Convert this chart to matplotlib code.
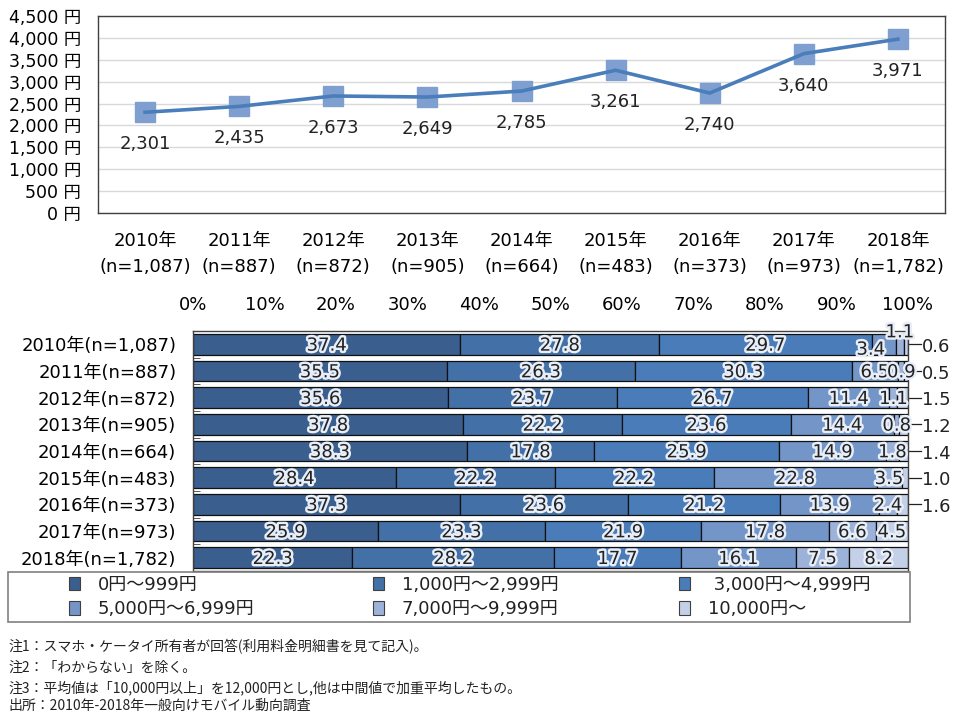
import numpy as np
import matplotlib
matplotlib.use("Agg")
import matplotlib.pyplot as plt
import matplotlib.patheffects as pe
from matplotlib.patches import Patch, Rectangle

plt.rcParams['font.family'] = ['DejaVu Sans', 'Noto Sans CJK JP']
plt.rcParams['text.color'] = '#222222'

# データ
years = ["2010年", "2011年", "2012年", "2013年", "2014年", "2015年", "2016年", "2017年", "2018年"]
samples = ["1,087", "887", "872", "905", "664", "483", "373", "973", "1,782"]
avg_fee = [2301, 2435, 2673, 2649, 2785, 3261, 2740, 3640, 3971]

categories = ["0円～999円", "1,000円～2,999円", " 3,000円～4,999円",
              "5,000円～6,999円", "7,000円～9,999円", "10,000円～"]
shares = np.array([
    [37.4, 27.8, 29.7, 3.4, 1.1, 0.6],
    [35.5, 26.3, 30.3, 6.5, 0.9, 0.5],
    [35.6, 23.7, 26.7, 11.4, 1.1, 1.5],
    [37.8, 22.2, 23.6, 14.4, 0.8, 1.2],
    [38.3, 17.8, 25.9, 14.9, 1.8, 1.4],
    [28.4, 22.2, 22.2, 22.8, 3.5, 1.0],
    [37.3, 23.6, 21.2, 13.9, 2.4, 1.6],
    [25.9, 23.3, 21.9, 17.8, 6.6, 4.5],
    [22.3, 28.2, 17.7, 16.1, 7.5, 8.2],
])
pct_ticks = [0, 10, 20, 30, 40, 50, 60, 70, 80, 90, 100]

notes = [
    "注1：スマホ・ケータイ所有者が回答(利用料金明細書を見て記入)。",
    "注2：「わからない」を除く。",
    "注3：平均値は「10,000円以上」を12,000円とし,他は中間値で加重平均したもの。",
    "出所：2010年-2018年一般向けモバイル動向調査",
]

colors = ["#3A5E8D", "#4270A7", "#4A7CBA", "#7395C8", "#9DB2D9", "#C4D0E7"]
edge = "#404040"
fs = 13

fig = plt.figure(figsize=(9.6, 7.2), dpi=100)

# 上段: 平均利用料金の推移
ax1 = fig.add_axes([98/960, 1-213/720, 847/960, 197/720])
x = np.arange(len(years))
ax1.plot(x, avg_fee, ls="none", marker="s", ms=14.5, color="#7F9FD0", zorder=2)
ax1.plot(x, avg_fee, color="#4A7EBB", lw=2.6, zorder=3)
for xi, v in zip(x, avg_fee):
    ax1.annotate(f"{v:,}", (xi, v), xytext=(0, -23), textcoords="offset points",
                 ha="center", va="center", fontsize=fs)
ax1.set_xlim(-0.5, len(years) - 0.5)
ax1.set_ylim(0, 4500)
ax1.set_yticks(np.arange(0, 4501, 500))
ax1.set_yticklabels([f"{v:,} 円" for v in range(0, 4501, 500)], fontsize=12.5)
ax1.set_xticks(x)
ax1.set_xticklabels([f"{y}\n(n={n})" for y, n in zip(years, samples)],
                    fontsize=fs, linespacing=1.55)
ax1.tick_params(axis="both", length=0)
ax1.tick_params(axis="x", pad=14)
ax1.tick_params(axis="y", pad=12)
ax1.grid(axis="y", color="#D9D9D9", lw=1)
ax1.set_axisbelow(True)
for s in ax1.spines.values():
    s.set_color(edge)
    s.set_linewidth(1)

# 下段: 利用料金の分布
ax2 = fig.add_axes([193/960, 1-571/720, 715/960, 240/720])
rows = np.arange(len(years))
left = np.zeros(len(years))
glow = [pe.withStroke(linewidth=3.5, foreground="#E8EEF8")]
for j in range(shares.shape[1]):
    vals = shares[:, j]
    ax2.barh(rows, vals, left=left, height=0.78, color=colors[j],
             edgecolor="#111111", lw=0.9, label=categories[j])
    for i, v in enumerate(vals):
        cx = left[i] + v / 2
        if j == 5 and v < 2:
            ax2.plot([100.2, 101.8], [i, i], color="#222222", lw=0.9, clip_on=False)
            ax2.text(102.0, i + 0.1, f"{v}", ha="left", va="center", fontsize=fs,
                     clip_on=False)
        elif i == 0 and j == 4:
            ax2.text(cx, i - 0.45, f"{v}", ha="center", va="center", fontsize=fs,
                     path_effects=glow)
        elif i == 0 and j == 3:
            ax2.text(cx - 1.8, i + 0.2, f"{v}", ha="center", va="center", fontsize=fs,
                     path_effects=glow)
        else:
            ax2.text(cx, i + 0.05, f"{v}", ha="center", va="center", fontsize=fs,
                     path_effects=glow)
    left += vals

ax2.set_xlim(0, 100)
ax2.set_ylim(len(years) - 0.5, -0.5)
ax2.xaxis.tick_top()
ax2.set_xticks(pct_ticks)
ax2.set_xticklabels([f"{t}%" for t in pct_ticks], fontsize=fs)
ax2.set_yticks(rows)
ax2.set_yticklabels([f"{y}(n={n})" for y, n in zip(years, samples)], fontsize=fs)
ax2.set_yticks(rows[:-1] + 0.5, minor=True)
ax2.tick_params(axis="both", which="major", length=0)
ax2.tick_params(axis="x", pad=12)
ax2.tick_params(axis="y", pad=12)
ax2.tick_params(axis="y", which="minor", direction="in", length=5, color=edge)
for s in ax2.spines.values():
    s.set_color(edge)
    s.set_linewidth(1)

# 凡例
fig.add_artist(Rectangle((8/960, 1-622/720), 902/960, 50/720, transform=fig.transFigure,
                         fill=False, edgecolor="#808080", lw=1.2))
handles = [Patch(facecolor=c, edgecolor=edge, lw=0.8) for c in colors]
col_x = [58/960, 362/960, 668/960]
for c in range(3):
    fig.legend(handles=[handles[c], handles[c + 3]],
               labels=[categories[c], categories[c + 3]],
               loc="upper left", bbox_to_anchor=(col_x[c], 1-565/720),
               frameon=False, fontsize=fs, handlelength=0.6, handleheight=0.8,
               handletextpad=1.0, labelspacing=0.35, borderpad=0.1)

# 注記
for k, t in enumerate(notes):
    fig.text(8/960, 1 - [647, 668, 688, 706][k]/720, t, fontsize=10,
             family=["Noto Sans CJK JP", "DejaVu Sans"], va="center", ha="left")

fig.savefig("out.png", dpi=100)
